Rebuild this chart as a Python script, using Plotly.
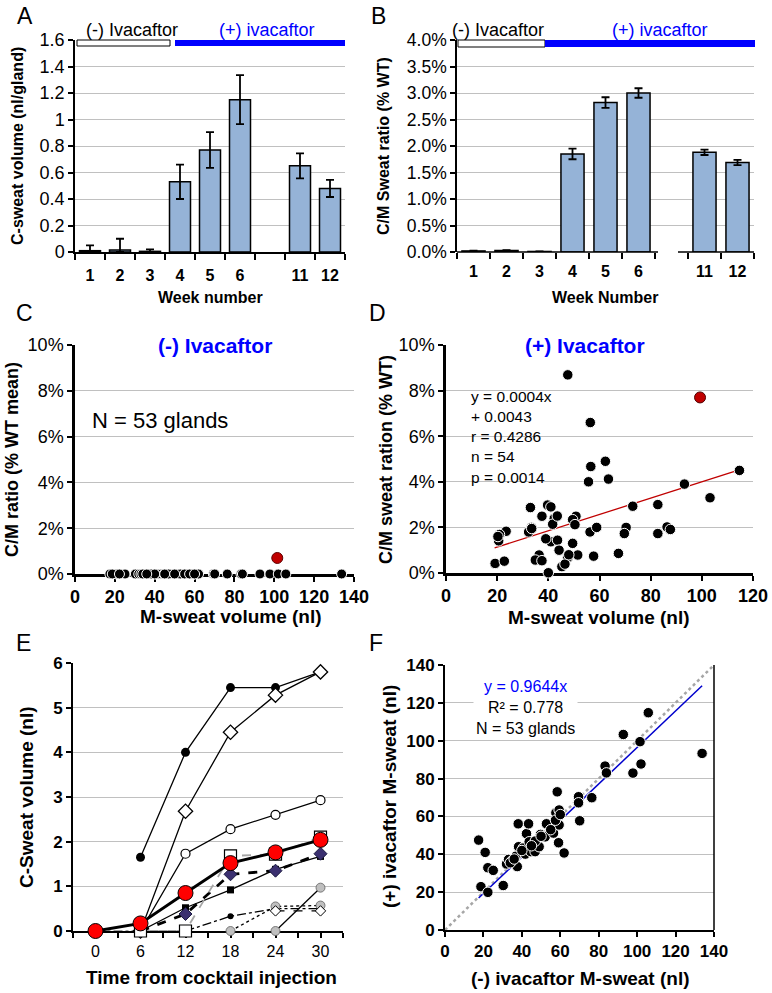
import plotly.graph_objects as go

W, H = 772, 993
FONT = "Liberation Sans, Arial, Helvetica, sans-serif"
BLUE_TXT = "#0000FF"
BAR_FILL = "#95B3D7"
GRID = "#C0C0C0"

# ---------------- Panel A / B data ----------------
week_labels = ["1", "2", "3", "4", "5", "6", "11", "12"]
week_axis_order = ["1", "2", "3", "4", "5", "6", "", "11", "12"]
a_volume = [0.01, 0.015, 0.005, 0.53, 0.77, 1.15, 0.65, 0.48]
a_err = [0.04, 0.085, 0.015, 0.13, 0.135, 0.185, 0.095, 0.065]
b_ratio = [0.0002, 0.0003, 0.0001, 0.0185, 0.0282, 0.0300, 0.0188, 0.0169]
b_err = [0.00005, 0.00005, 0.00003, 0.0010, 0.0010, 0.0009, 0.0005, 0.0005]

# ---------------- Panel C / F data (53 glands) ----------------
m_sweat_minus = [17.5, 20.9, 22.3, 25.1, 18.7, 22.3, 30.3, 32.0, 33.1, 34.8,
                 37.6, 36.9, 38.1, 38.3, 40.7, 41.8, 42.4, 43.8, 43.5, 44.7,
                 46.9, 49.0, 49.7, 52.1, 52.8, 56.5, 58.4, 57.7, 59.4, 59.1,
                 59.4, 62.0, 69.5, 69.5, 70.1, 76.4, 83.3, 84.0, 92.8, 97.8,
                 101.5, 102.0, 105.8, 133.8, 47.0, 34.0, 55.0, 40.0, 45.0, 57.5,
                 60.0, 50.0, 36.0]
m_sweat_plus = [47.5, 41.0, 32.9, 31.5, 22.9, 19.9, 23.5, 34.9, 37.3, 36.4,
                33.5, 39.0, 56.1, 44.0, 43.3, 40.1, 50.9, 46.6, 56.1, 41.4,
                41.4, 44.0, 50.5, 49.2, 56.1, 51.2, 73.0, 61.9, 63.4, 46.1,
                55.5, 40.7, 70.4, 67.2, 57.7, 69.9, 86.6, 83.0, 103.3, 82.9,
                99.5, 87.7, 114.8, 93.3, 47.0, 35.5, 53.0, 42.0, 44.5, 58.0,
                61.0, 49.5, 37.5]
c_ratio_minus = [0, 0, 0, 0, 0, 0, 0, 0, 0, 0,
                 0, 0, 0, 0, 0, 0, 0, 0, 0, 0,
                 0, 0, 0, 0, 0, 0, 0, 0, 0, 0,
                 0, 0, 0, 0, 0, 0, 0, 0, 0, 0,
                 0.007, 0, 0, 0, 0, 0, 0, 0, 0, 0,
                 0, 0, 0]
f_slope = 0.9644

# ---------------- Panel D data (54 glands, % WT) ----------------
d_m_sweat = [47.6, 56.4, 56.6, 62.3, 55.7, 63.5, 93.2, 114.7, 103.2, 33.0,
             39.7, 41.0, 37.5, 42.3, 41.7, 50.8, 49.5, 50.4, 73.0, 82.8,
             70.4, 69.7, 56.3, 58.9, 33.4, 32.3, 23.5, 20.9, 20.6, 82.8,
             86.4, 87.7, 41.0, 43.6, 44.2, 49.5, 36.4, 34.9, 37.5, 47.6,
             51.5, 57.7, 67.4, 45.3, 46.5, 19.2, 22.8, 40.0, 43.5, 39.0,
             48.0, 33.5, 20.3]
d_ratio = [8.69, 6.6, 4.67, 4.9, 4.0, 4.12, 3.9, 4.5, 3.3, 2.87,
           2.98, 2.9, 2.49, 2.39, 2.14, 2.49, 2.34, 2.12, 2.93, 3.0,
           2.0, 1.73, 1.8, 2.0, 2.0, 1.8, 1.83, 1.69, 1.41, 1.73,
           2.02, 1.91, 1.37, 1.44, 1.0, 1.3, 0.79, 0.57, 0.54, 0.68,
           0.79, 0.74, 0.86, 0.28, 0.39, 0.42, 0.52, 0.01, 2.5, 1.5,
           0.8, 1.95, 1.6]
d_red_m_sweat = [99.3]
d_red_ratio = [7.7]
d_trend_x = [19, 114]
d_trend_y = [1.1, 4.5]

# ---------------- Panel E data ----------------
e_time = [0, 6, 12, 18, 24, 30]
e_gland_a = [None, 1.65, 4.0, 5.45, 5.45, 5.8]
e_gland_b = [None, 0.0, 2.68, 4.45, 5.28, 5.8]
e_gland_c = [None, 0.0, 1.73, 2.28, 2.6, 2.93]
e_gland_d = [None, 0.0, 0.0, 1.68, 1.72, 2.1]
e_gland_e = [None, 0.0, 0.52, 0.92, 1.38, 1.67]
e_gland_f = [None, 0.0, 0.38, 1.27, 1.35, 1.73]
e_gland_g = [None, None, 0.0, 0.33, 0.5, 0.5]
e_gland_h = [None, None, None, 0.0, 0.55, 0.57]
e_gland_i = [None, None, None, None, 0.0, 0.97]
e_gland_j = [None, None, None, None, 0.45, 0.45]
e_baseline = [0.0, 0.0, 0.0, None, None, None]
e_mean = [0.0, 0.17, 0.85, 1.52, 1.76, 2.04]


def fx(p):
    return p / W


def fy(p):
    return 1 - p / H


fig = go.Figure()

# ---------- A ----------
pos = [week_axis_order.index(w) for w in week_labels]
a_minus = [min(e, v) for e, v in zip(a_err, a_volume)]
fig.add_trace(go.Bar(x=pos, y=a_volume, width=0.7, xaxis="x", yaxis="y",
                     marker=dict(color=BAR_FILL, line=dict(color="black", width=1.5)),
                     error_y=dict(type="data", array=a_err, arrayminus=a_minus,
                                  color="black", thickness=1.8, width=4)))
# ---------- B ----------
b_minus = [min(e, v) for e, v in zip(b_err, b_ratio)]
fig.add_trace(go.Bar(x=pos, y=b_ratio, width=0.7, xaxis="x2", yaxis="y2",
                     marker=dict(color=BAR_FILL, line=dict(color="black", width=1.5)),
                     error_y=dict(type="data", array=b_err, arrayminus=b_minus,
                                  color="black", thickness=1.8, width=4)))

# ---------- C ----------
c_colors = ["#C00000" if v > 0 else "black" for v in c_ratio_minus]
c_lines = ["#600000" if v > 0 else "white" for v in c_ratio_minus]
c_sizes = [11 if v > 0 else 10 for v in c_ratio_minus]
fig.add_trace(go.Scatter(x=m_sweat_minus, y=c_ratio_minus, mode="markers", xaxis="x3", yaxis="y3",
                         cliponaxis=False,
                         marker=dict(color=c_colors, size=c_sizes, opacity=1,
                                     line=dict(color=c_lines, width=1))))

# ---------- D ----------
fig.add_trace(go.Scatter(x=d_trend_x, y=[v / 100 for v in d_trend_y], mode="lines", xaxis="x4", yaxis="y4",
                         line=dict(color="#C00000", width=1.3)))
fig.add_trace(go.Scatter(x=d_m_sweat, y=[v / 100 for v in d_ratio], mode="markers", xaxis="x4", yaxis="y4",
                         cliponaxis=False,
                         marker=dict(color="black", size=10.5, opacity=1, line=dict(color="white", width=1))))
fig.add_trace(go.Scatter(x=d_red_m_sweat, y=[v / 100 for v in d_red_ratio], mode="markers",
                         xaxis="x4", yaxis="y4",
                         marker=dict(color="#C00000", size=11, opacity=1, line=dict(color="#500000", width=1))))

# ---------- E ----------
thin = 1.3
e_styles = [
    (e_baseline, dict(color="#808080", width=1.5, dash="dashdot"), None),
    (e_gland_g, dict(color="black", width=thin, dash="dashdot"), dict(symbol="circle", color="black", size=6)),
    (e_gland_h, dict(color="black", width=thin, dash="dot"), dict(symbol="circle", color="#BFBFBF", size=9,
                                                                  line=dict(color="#606060", width=0.8))),
    (e_gland_j, dict(color="black", width=thin, dash="dash"), dict(symbol="diamond", color="white", size=8,
                                                                   line=dict(color="black", width=1))),
    (e_gland_i, dict(color="black", width=thin), dict(symbol="circle", color="#BFBFBF", size=9,
                                                      line=dict(color="#606060", width=0.8))),
    (e_gland_a, dict(color="black", width=thin), dict(symbol="circle", color="black", size=9)),
    (e_gland_b, dict(color="black", width=thin), dict(symbol="diamond", color="white", size=11,
                                                      line=dict(color="black", width=1.3))),
    (e_gland_c, dict(color="black", width=thin), dict(symbol="circle", color="white", size=9,
                                                      line=dict(color="black", width=1.2))),
    (e_gland_e, dict(color="black", width=thin), dict(symbol="square", color="black", size=7)),
    (e_gland_f, dict(color="black", width=2.8, dash="dash"), dict(symbol="diamond", color="#3B3070", size=10,
                                                                  line=dict(color="#1a1a40", width=1))),
    (e_gland_d, dict(color="#A6A6A6", width=1.8, dash="dash"), dict(symbol="square", color="white", size=12,
                                                                   line=dict(color="black", width=1.2))),
    (e_mean, dict(color="black", width=3), dict(symbol="circle", color="#FF0000", size=15,
                                                 line=dict(color="black", width=1))),
]
for vals, ln, mk in e_styles:
    fig.add_trace(go.Scatter(x=e_time, y=vals, mode="lines" if mk is None else "lines+markers",
                             xaxis="x5", yaxis="y5", cliponaxis=False, connectgaps=False,
                             line=ln, marker=mk))

# ---------- F ----------
fig.add_trace(go.Scatter(x=[0, 140], y=[0, 140], mode="lines", xaxis="x6", yaxis="y6",
                         line=dict(color="#A6A6A6", width=2.5, dash="dot")))
fx_min, fx_max = min(m_sweat_minus), max(m_sweat_minus)
fig.add_trace(go.Scatter(x=[fx_min, fx_max], y=[f_slope * fx_min, f_slope * fx_max], mode="lines",
                         xaxis="x6", yaxis="y6", line=dict(color="#0000CC", width=1.5)))
fig.add_trace(go.Scatter(x=m_sweat_minus, y=m_sweat_plus, mode="markers", xaxis="x6", yaxis="y6",
                         cliponaxis=False,
                         marker=dict(color="black", size=10.5, opacity=1, line=dict(color="white", width=1))))

# ---------- axes ----------
def yax(dom_px, rng, dtick, size, bold=False, fmt=None, lw=1.5):
    d = dict(domain=[fy(dom_px[0]), fy(dom_px[1])], range=rng, dtick=dtick, tick0=0,
             showgrid=True, gridcolor=GRID, gridwidth=1, zeroline=False,
             showline=True, linecolor="black", linewidth=lw, automargin=False,
             ticks="outside", ticklen=5, tickwidth=1.5, tickcolor="black",
             tickfont=dict(size=size, family=FONT, color="black", weight="bold" if bold else "normal"))
    if fmt:
        d["tickformat"] = fmt
    return d


def xax_num(dom_px, rng, dtick, size, bold=True, lw=1.5, anchor="y"):
    return dict(domain=[fx(dom_px[0]), fx(dom_px[1])], range=rng, dtick=dtick, tick0=0,
                showgrid=False, zeroline=False, showline=True, linecolor="black", linewidth=lw,
                ticks="outside", ticklen=5, tickwidth=1.5, tickcolor="black", anchor=anchor,
                layer="below traces", automargin=False,
                tickfont=dict(size=size, family=FONT, color="black", weight="bold" if bold else "normal"))


tickvals = [week_axis_order.index(w) for w in week_labels]
def xax_week(dom_px, anchor, showline=True):
    return dict(domain=[fx(dom_px[0]), fx(dom_px[1])], range=[-0.5, len(week_axis_order) - 0.5],
                tickmode="array", tickvals=tickvals, ticktext=week_labels, ticks="",
                showgrid=False, zeroline=False, showline=showline, linecolor="black", linewidth=1.5,
                anchor=anchor, ticklabelstandoff=8, automargin=False,
                tickfont=dict(size=16, family=FONT, color="black", weight="bold"),
                minor=dict(tickmode="linear", tick0=-0.5, dtick=1, ticks="outside", ticklen=6,
                           tickwidth=1.5, tickcolor="black", showgrid=False))


layout = dict(
    width=W, height=H, margin=dict(l=0, r=0, t=0, b=0, pad=0, autoexpand=False),
    paper_bgcolor="white", plot_bgcolor="white", showlegend=False,
    font=dict(family=FONT, color="black"),
    xaxis=xax_week([75, 345], "y"),
    yaxis=dict(yax([252, 40], [0, 1.6], 0.2, 18), anchor="x"),
    xaxis2=xax_week([457, 754], "y2", showline=False),
    yaxis2=dict(yax([252, 40], [0, 0.04], 0.005, 17.5, fmt=".1%"), anchor="x2"),
    xaxis3=xax_num([75, 354], [0, 140], 20, 18, lw=2.5, anchor="y3"),
    yaxis3=dict(yax([574, 345], [0, 0.1], 0.02, 18, fmt=".0%", lw=2.5), anchor="x3"),
    xaxis4=xax_num([446, 753], [0, 120], 20, 18, lw=2.5, anchor="y4"),
    yaxis4=dict(yax([573, 345], [0, 0.1], 0.02, 18, fmt=".0%", lw=2.5), anchor="x4"),
    xaxis5=dict(xax_num([73, 343], [-3, 33], 6, 16, bold=False, lw=2, anchor="y5"),
                minor=dict(dtick=3, tick0=0, ticks="outside", ticklen=5, tickwidth=1.5,
                           tickcolor="black", showgrid=False)),
    yaxis5=dict(yax([931, 663], [0, 6], 1, 17, bold=True, lw=2), anchor="x5"),
    xaxis6=xax_num([445, 714], [0, 140], 20, 17, lw=2, anchor="y6"),
    yaxis6=dict(yax([930, 665], [0, 140], 20, 17, bold=True, lw=2), anchor="x6"),
)
fig.update_layout(**layout)

# ---------- shapes ----------
def rect(x0, y0, x1, y1, fill, line=None):
    return dict(type="rect", xref="paper", yref="paper", x0=fx(x0), x1=fx(x1), y0=fy(y1), y1=fy(y0),
                fillcolor=fill, line=line or dict(width=0), layer="above")


def seg(x0, y0, x1, y1, color="black", width=1.5):
    return dict(type="line", xref="paper", yref="paper", x0=fx(x0), x1=fx(x1), y0=fy(y0), y1=fy(y1),
                line=dict(color=color, width=width), layer="above")


shapes = [
    rect(77, 40, 170, 46, "white", dict(color="black", width=1)),
    rect(175, 40, 345, 46, "#0000FF"),
    rect(458, 40, 545, 47, "white", dict(color="black", width=1)),
    rect(545, 40, 755, 47, "#0000FF"),
    seg(457, 252, 658, 252),
    seg(678, 252, 754, 252),
    seg(714, 665, 714, 930, width=1.5),
]
fig.update_layout(shapes=shapes)

# ---------- annotations ----------
def ann(text, x, y, size, color="black", bold=False, angle=0, xanchor="center", bg=None, pad=1, align="center"):
    d = dict(text=("<b>%s</b>" % text) if bold else text, x=fx(x), y=fy(y), xref="paper", yref="paper",
             showarrow=False, xanchor=xanchor, yanchor="middle", textangle=angle, align=align,
             font=dict(size=size, color=color, family=FONT), borderpad=pad)
    if bg:
        d["bgcolor"] = bg
    return d


anns = [
    ann("A", 25, 16, 23), ann("B", 378, 16, 23), ann("C", 24, 313, 23),
    ann("D", 377, 313, 23), ann("E", 23, 643, 23), ann("F", 376, 643, 23),
    ann("(-) Ivacaftor", 132, 30, 18), ann("(+) ivacaftor", 267, 30, 18, color=BLUE_TXT),
    ann("(-) Ivacaftor", 498, 30, 18), ann("(+) ivacaftor", 660, 30, 18, color=BLUE_TXT),
    ann("C-sweat volume (nl/gland)", 18, 146, 16, bold=True, angle=-90),
    ann("Week number", 210, 297, 16, bold=True),
    ann("C/M Sweat ratio (% WT)", 384, 146, 16, bold=True, angle=-90),
    ann("Week Number", 605, 297, 16, bold=True),
    ann("(-) Ivacaftor", 215, 345, 21, color=BLUE_TXT, bold=True, bg="white", pad=10),
    ann("N = 53 glands", 90, 420, 22, xanchor="left"),
    ann("C/M ratio (% WT mean)", 12, 460, 18, bold=True, angle=-90),
    ann("M-sweat volume (nl)", 231, 616, 19, bold=True),
    ann("(+) Ivacaftor", 585, 345, 21, color=BLUE_TXT, bold=True, bg="white", pad=10),
    ann("y = 0.0004x<br>+ 0.0043<br>r = 0.4286<br>n = 54<br>p = 0.0014", 469, 437, 15.5,
        xanchor="left", align="left"),
    ann("C/M sweat ration (% WT)", 386, 460, 18, bold=True, angle=-90),
    ann("M-sweat volume (nl)", 599, 617, 19, bold=True),
    ann("C-Sweat volume (nl)", 26, 797, 19, bold=True, angle=-90),
    ann("Time from cocktail injection", 211, 977, 19, bold=True),
    ann("<span style='color:#0000FF'>y = 0.9644x</span><br>R² = 0.778<br>N = 53 glands", 525, 707, 16,
        bg="white", pad=2),
    ann("(+) ivacaftor M-sweat (nl)", 389, 797, 19, bold=True, angle=-90),
    ann("(-) ivacaftor M-sweat (nl)", 580, 978, 19, bold=True),
]
fig.update_layout(annotations=anns)

fig.write_html("out.html", config={"displayModeBar": False},
               post_script="document.body.style.margin='0';document.body.style.padding='0';"
                           "document.documentElement.style.overflow='hidden';")
